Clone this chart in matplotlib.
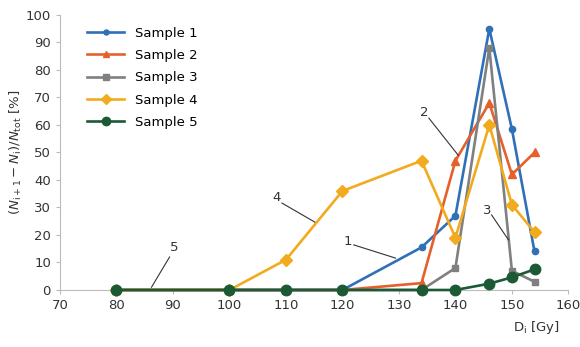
import matplotlib.pyplot as plt

dose = [80, 100, 110, 120, 134, 140, 146, 150, 154]
sample1 = [0, 0, 0, 0, 15.5, 27, 95, 58.5, 14]
sample2 = [0, 0, 0, 0, 2.5, 47, 68, 42, 50]
sample3 = [0, 0, 0, 0, 0, 8, 88, 7, 3]
sample4 = [0, 0, 11, 36, 47, 19, 60, 31, 21]
sample5 = [0, 0, 0, 0, 0, 0, 2.3, 4.6, 7.5]

series = [
    ("Sample 1", sample1, "#2f70b6", "o", 4.5),
    ("Sample 2", sample2, "#e5602a", "^", 6),
    ("Sample 3", sample3, "#808080", "s", 5),
    ("Sample 4", sample4, "#f2aa1f", "D", 6),
    ("Sample 5", sample5, "#1b5a35", "o", 7.5),
]

# leader lines: label, text pos, line start, line end (data coords)
callouts = [
    ("1", (120.9, 17.5), (122.0, 16.4), (129.4, 11.6)),
    ("2", (134.4, 64.5), (135.3, 62.5), (140.5, 49.0)),
    ("3", (145.6, 29.0), (146.4, 27.3), (149.4, 18.2)),
    ("4", (108.3, 33.5), (109.3, 31.6), (115.1, 24.7)),
    ("5", (90.3, 15.5), (89.4, 12.0), (86.2, 1.0)),
]

fig = plt.figure(figsize=(5.8, 3.47), dpi=100)
ax = fig.add_axes([0.1034, 0.1643, 0.8766, 0.7925])

for name, vals, color, marker, ms in series:
    ax.plot(dose, vals, color=color, marker=marker, markersize=ms, lw=1.9,
            label=name, clip_on=False, zorder=3)

for lab, tpos, p0, p1 in callouts:
    ax.plot([p0[0], p1[0]], [p0[1], p1[1]], color="#333333", lw=0.8, zorder=4)
    ax.text(tpos[0], tpos[1], lab, fontsize=9.5, ha="center", va="center", color="#333333")

ax.set_xlim(70, 160)
ax.set_ylim(0, 100)
ax.set_xticks(range(70, 161, 10))
ax.set_yticks(range(0, 101, 10))
ax.tick_params(labelsize=9.5, colors="#333333", length=3, width=0.8)
ax.tick_params(axis="both", color="#bbbbbb")
for s in ["top", "right"]:
    ax.spines[s].set_visible(False)
for s in ["left", "bottom"]:
    ax.spines[s].set_color("#bbbbbb")

ax.set_ylabel(r"$(N_{\rm i+1} - N_{\rm i})/N_{\rm tot}$ [%]", fontsize=9.5, color="#333333")
ax.yaxis.set_label_coords(-0.07, 0.5)
fig.text(0.925, 0.045, r"D$_{\rm i}$ [Gy]", fontsize=9.5, ha="center", color="#333333")

ax.legend(loc="upper left", bbox_to_anchor=(0.03, 1.0), frameon=False, fontsize=9.5,
          handlelength=2.8, labelspacing=0.7, markerscale=0.8)

fig.savefig("out.png", dpi=100)
